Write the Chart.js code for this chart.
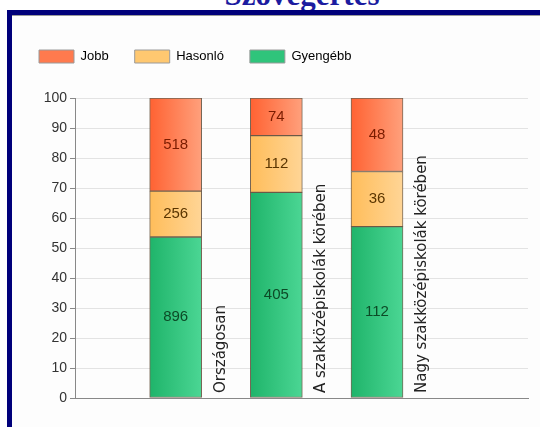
<!DOCTYPE html>
<html>
<head>
<meta charset="utf-8">
<script src="https://cdn.jsdelivr.net/npm/chart.js@4"></script>
<style>
  html, body { margin: 0; padding: 0; background: #fff; }
  body { width: 540px; height: 427px; overflow: hidden; position: relative; }
  #title {
    position: absolute; left: 0; width: 604px; top: -23px;
    text-align: center; font: bold 31px "Liberation Serif", "DejaVu Serif", serif;
    color: #1c1ca0; white-space: nowrap;
  }
  #frame {
    position: absolute; left: 7px; top: 10px; width: 560px; height: 440px;
    border-top: 5px solid #00007a; border-left: 5px solid #00007a;
    background: #fdfdfd; box-shadow: inset 0 1px 0 #9a9a9a;
  }
  #wrap { position: absolute; left: 12px; top: 15px; width: 528px; height: 412px; }
</style>
</head>
<body>
<div id="title">Szövegértés</div>
<div id="frame"></div>
<div id="wrap"><canvas id="chart"></canvas></div>
<script>
// Kategóriák és darabszámok (a címkéken látható értékek)
const categories = ['Országosan', 'A szakközépiskolák körében', 'Nagy szakközépiskolák körében'];
const jobb     = [518, 74, 48];
const hasonlo  = [256, 112, 36];
const gyengebb = [896, 405, 112];
const yTicks   = [0, 10, 20, 30, 40, 50, 60, 70, 80, 90, 100];

// Összeg kategóriánként -> százalék
const totals = categories.map((c, i) => jobb[i] + hasonlo[i] + gyengebb[i]);
const pct = (arr) => arr.map((v, i) => ({ x: i + 1, y: v / totals[i] * 100 }));

// Színátmenet oszloponként (balról jobbra világosodik)
function grad(c1, c2, plain) {
    return (ctx) => {
        const chart = ctx.chart;
        if (ctx.type !== 'data' || !chart.chartArea) return plain;
        const x = chart.scales.x.getPixelForValue(ctx.dataIndex + 1);
        const g = chart.ctx.createLinearGradient(x - 26, 0, x + 26, 0);
        g.addColorStop(0, c1);
        g.addColorStop(1, c2);
        return g;
    };
}

const series = [
    { label: 'Gyengébb', counts: gyengebb, c1: '#1fb46a', c2: '#4bd694', plain: '#2fc47b', text: '#0c4a26' },
    { label: 'Hasonló',  counts: hasonlo,  c1: '#ffbd5a', c2: '#ffd596', plain: '#ffc870', text: '#5a3500' },
    { label: 'Jobb',     counts: jobb,     c1: '#ff6232', c2: '#ffa07c', plain: '#ff7a4e', text: '#7a1c00' }
];

// Számok a szegmensek közepén
const valueLabels = {
    id: 'valueLabels',
    afterDatasetsDraw(chart) {
        const ctx = chart.ctx;
        ctx.save();
        ctx.font = '15px "Liberation Sans", Arial, sans-serif';
        ctx.textAlign = 'center';
        ctx.textBaseline = 'middle';
        chart.data.datasets.forEach((ds, di) => {
            chart.getDatasetMeta(di).data.forEach((bar, i) => {
                ctx.fillStyle = series[di].text;
                ctx.fillText(String(series[di].counts[i]), bar.x, (bar.y + bar.base) / 2);
            });
        });
        ctx.restore();
    }
};

// Függőleges kategórianevek az oszlopok mellett
const catLabels = {
    id: 'catLabels',
    afterDatasetsDraw(chart) {
        const ctx = chart.ctx;
        const bottom = chart.chartArea.bottom;
        ctx.save();
        ctx.font = '15px "DejaVu Sans", sans-serif';
        ctx.fillStyle = '#222';
        ctx.textAlign = 'left';
        ctx.textBaseline = 'middle';
        chart.getDatasetMeta(0).data.forEach((bar, i) => {
            ctx.save();
            ctx.translate(bar.x + bar.width / 2 + 19, bottom - 5);
            ctx.rotate(-Math.PI / 2);
            ctx.fillText(categories[i], 0, 0);
            ctx.restore();
        });
        ctx.restore();
    }
};

// Hely a jelmagyarázat alatt
const legendGap = {
    id: 'legendGap',
    beforeInit(chart) {
        const fit = chart.legend.fit;
        chart.legend.fit = function () {
            fit.bind(chart.legend)();
            this.height += 25;
        };
    }
};

const ctx = document.getElementById('chart').getContext('2d');
new Chart(ctx, {
    type: 'bar',
    data: {
        datasets: series.map(s => ({
            label: s.label,
            data: pct(s.counts),
            backgroundColor: grad(s.c1, s.c2, s.plain),
            borderColor: 'rgba(95,75,55,0.85)',
            borderWidth: 1,
            borderSkipped: false,
            barThickness: 52
        }))
    },
    options: {
        responsive: true,
        maintainAspectRatio: false,
        animation: false,
        events: [],
        layout: { padding: { left: 1, right: 12, top: 9, bottom: 21 } },
        plugins: {
            legend: {
                position: 'top',
                align: 'start',
                reverse: true,
                labels: {
                    boxWidth: 35,
                    boxHeight: 13,
                    padding: 26,
                    color: '#333',
                    font: { size: 13, family: '"Liberation Sans", Arial, sans-serif' },
                    generateLabels(chart) {
                        return chart.data.datasets.map((ds, i) => ({
                            text: ds.label,
                            fillStyle: series[i].plain,
                            strokeStyle: '#9a9a9a',
                            lineWidth: 1,
                            datasetIndex: i
                        }));
                    }
                }
            },
            tooltip: { enabled: false }
        },
        scales: {
            x: {
                type: 'linear',
                min: 0,
                max: 4.5,
                offset: false,
                stacked: true,
                ticks: { display: false },
                grid: { display: false },
                border: { display: true, color: '#888' }
            },
            y: {
                stacked: true,
                min: 0,
                max: 100,
                afterBuildTicks(scale) { scale.ticks = yTicks.map(v => ({ value: v })); },
                afterFit(scale) { scale.width = 62; },
                ticks: {
                    color: '#333',
                    padding: 3,
                    font: { size: 14, family: '"Liberation Sans", Arial, sans-serif' }
                },
                grid: { color: '#e3e3e3', tickColor: '#888', tickLength: 5 },
                border: { color: '#888' }
            }
        }
    },
    plugins: [valueLabels, catLabels, legendGap]
});
</script>
</body>
</html>
